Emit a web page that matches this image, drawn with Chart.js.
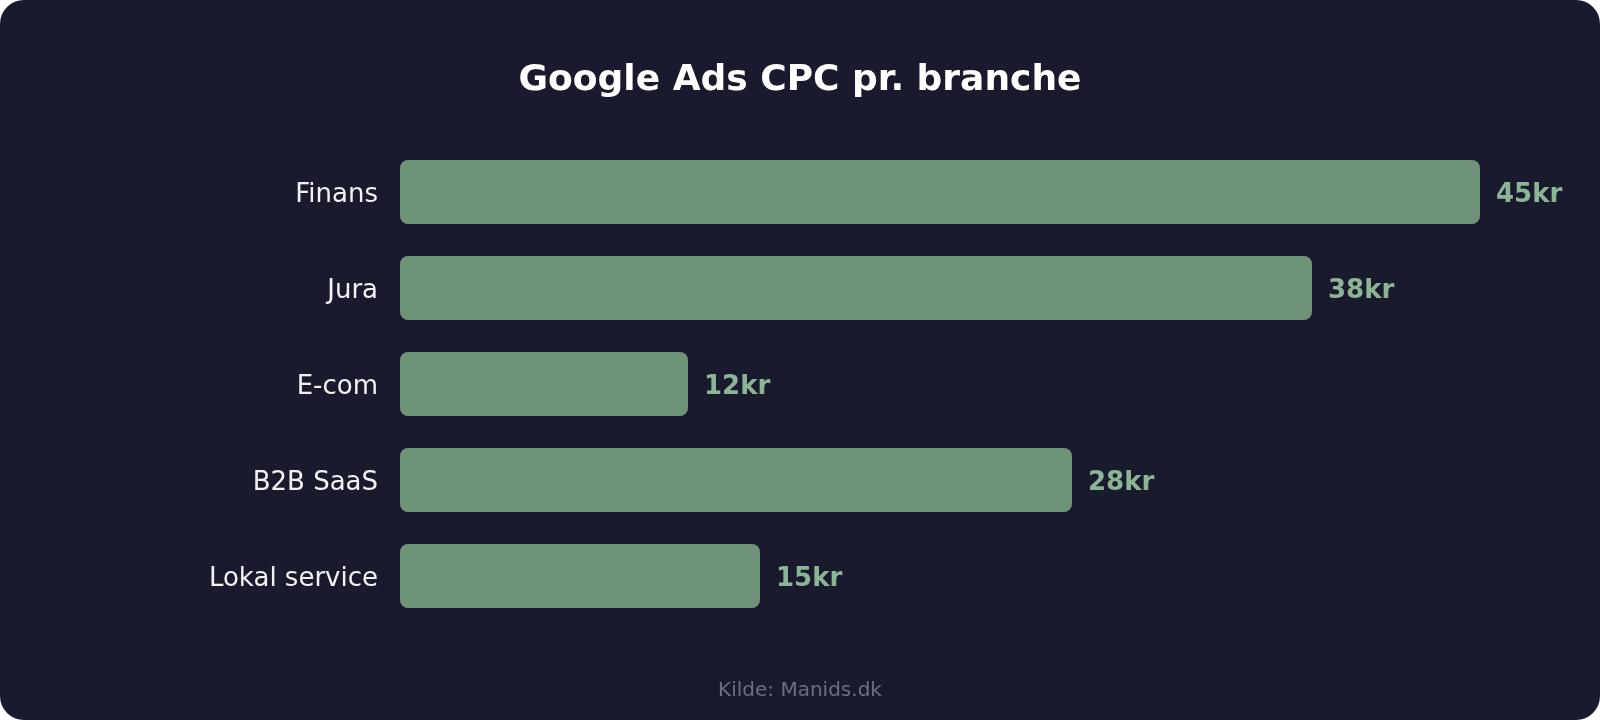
<!DOCTYPE html>
<html>
<head>
<meta charset="utf-8">
<script src="https://cdn.jsdelivr.net/npm/chart.js@4"></script>
<style>
  html, body { margin: 0; padding: 0; background: #ffffff; }
  #wrap {
    width: 1600px; height: 720px;
    background: #1a1a2e;
    border-radius: 24px;
    overflow: hidden;
    position: relative;
  }
</style>
</head>
<body>
<div id="wrap"><canvas id="cpcChart"></canvas></div>
<script>
  // Chart data
  const categories = ['Finans', 'Jura', 'E-com', 'B2B SaaS', 'Lokal service'];
  const cpcValues = [45, 38, 12, 28, 15];
  const valueSuffix = 'kr';

  const FONT = "'DejaVu Sans', sans-serif";

  // Draws "45kr" etc. to the right of each bar
  const valueLabels = {
    id: 'valueLabels',
    afterDatasetsDraw(chart) {
      const ctx = chart.ctx;
      const meta = chart.getDatasetMeta(0);
      ctx.save();
      ctx.font = `bold 26px ${FONT}`;
      ctx.fillStyle = '#8cb596';
      ctx.textAlign = 'left';
      ctx.textBaseline = 'middle';
      meta.data.forEach((bar, i) => {
        ctx.fillText(cpcValues[i] + valueSuffix, bar.x + 16, bar.y + 3);
      });
      ctx.restore();
    }
  };

  new Chart(document.getElementById('cpcChart'), {
    type: 'bar',
    data: {
      labels: categories,
      datasets: [{
        data: cpcValues,
        backgroundColor: '#6e9277',
        borderRadius: 8,
        borderSkipped: false,
        categoryPercentage: 1,
        barPercentage: 0.667
      }]
    },
    options: {
      indexAxis: 'y',
      responsive: true,
      maintainAspectRatio: false,
      animation: false,
      layout: { padding: { left: 120, right: 120, top: 0, bottom: 0 } },
      scales: {
        x: { display: false, min: 0, max: 45 },
        y: {
          grid: { display: false },
          border: { display: false },
          ticks: {
            color: '#f2f2f2',
            padding: 14,
            labelOffset: 3,
            font: { family: FONT, size: 26 }
          },
          afterFit(scale) { scale.width = 280; }
        }
      },
      plugins: {
        legend: { display: false },
        tooltip: { enabled: false },
        title: {
          display: true,
          text: 'Google Ads CPC pr. branche',
          color: '#ffffff',
          font: { family: FONT, size: 36, weight: 'bold' },
          padding: { top: 59, bottom: 41.8 }
        },
        subtitle: {
          display: true,
          position: 'bottom',
          text: 'Kilde: Manids.dk',
          color: '#6b6f82',
          font: { family: FONT, size: 20 },
          padding: { top: 55, bottom: 17 }
        }
      }
    },
    plugins: [valueLabels]
  });
</script>
</body>
</html>
